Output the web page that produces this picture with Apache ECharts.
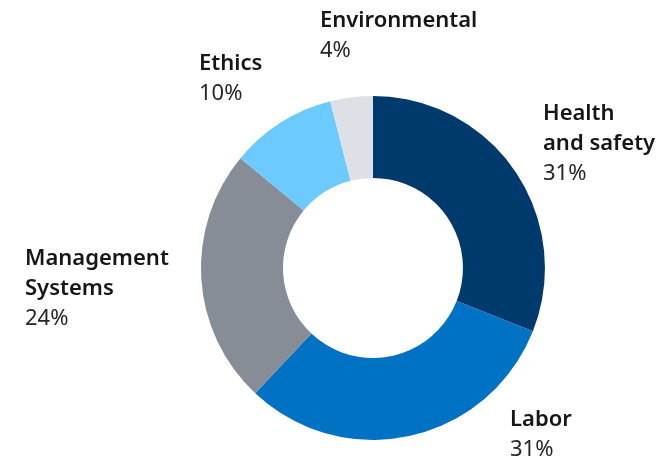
<!DOCTYPE html>
<html><head><meta charset="utf-8">
<script src="https://cdn.jsdelivr.net/npm/echarts@6/dist/echarts.min.js"></script>
<style>html,body{margin:0;padding:0;background:#fff}#c{width:666px;height:462px}</style>
</head><body><div id="c"></div>
<script>
const categories = ['Health\nand safety', 'Labor', 'Management\nSystems', 'Ethics', 'Environmental'];
const values = [31, 31, 24, 10, 4];
const colors = ['#003a6d', '#0072c3', '#878d96', '#6ccaff', '#dde1e6'];
// label placement (left, top) per slice
const labelPos = [[543, 99], [510, 405], [25, 244], [199, 49], [320, 6]];

const chart = echarts.init(document.getElementById('c'));
chart.setOption({
  animation: false,
  series: [{
    type: 'pie',
    center: ['56%', '58%'],
    radius: [90, 172],
    startAngle: 90,
    clockwise: true,
    label: {
      show: true,
      position: 'outside',
      overflow: 'none',
      formatter: p => '{n|' + p.name + '}\n{p|' + p.value + '%}',
      rich: {
        n: { fontFamily: 'Noto Sans', fontSize: 22, fontWeight: 600, color: '#161616', lineHeight: 30 },
        p: { fontFamily: 'Noto Sans', fontSize: 22, fontWeight: 'normal', color: '#262626', lineHeight: 30 }
      }
    },
    labelLine: { show: false },
    labelLayout: p => ({ x: labelPos[p.dataIndex][0], y: labelPos[p.dataIndex][1], align: 'left', verticalAlign: 'top' }),
    data: categories.map((c, i) => ({ name: c, value: values[i], itemStyle: { color: colors[i] } }))
  }]
});
</script></body></html>
